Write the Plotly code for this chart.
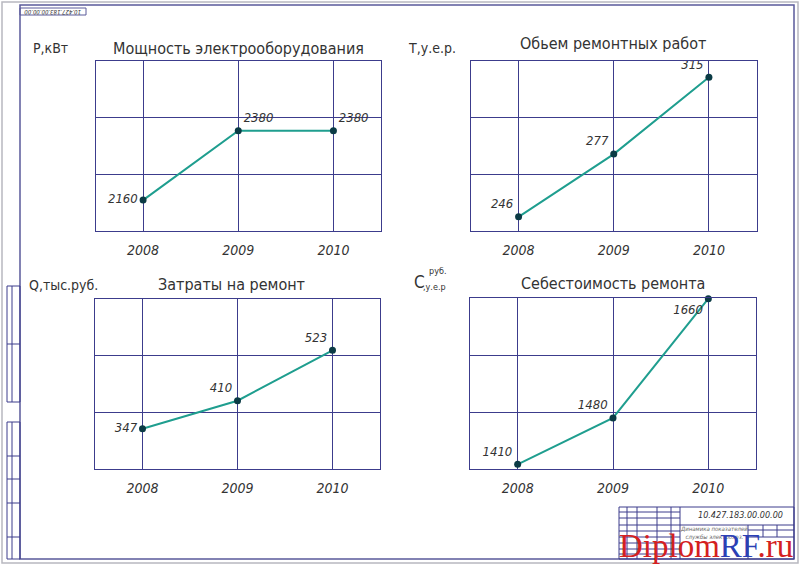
import plotly.graph_objects as go

W, H = 800, 565

years = [2008, 2009, 2010]

power_kw = [2160, 2380, 2380]
repair_volume = [246, 277, 315]
repair_costs = [347, 410, 523]
repair_unit_cost = [1410, 1480, 1660]

titles = ["Мощность электрооборудования", "Обьем ремонтных работ",
          "Затраты на ремонт", "Себестоимость ремонта"]
ylabels = ["P,кВт", "Т,у.е.р.", "Q,тыс.руб."]
sheet_code = "10.427.183.00.00.00"

LINE = "#1f9e8f"
MARK = "#0b3b45"
GRID = "#3c3c8c"
TXT = "#333333"
FONT = "DejaVu Sans Condensed, DejaVu Sans, sans-serif"


def px(x):
    return x / W


def py(y):
    return 1 - y / H


# panel placement in pixels: (left, right, top, bottom)
panels = [
    (95.5, 381, 61, 231),
    (471, 756.5, 61, 231),
    (95, 380, 298.5, 469),
    (470, 756, 298, 469),
]
series = [power_kw, repair_volume, repair_costs, repair_unit_cost]
yranges = [[2062, 2601], [239, 323], [257, 639], [1403, 1661]]
textpos = [
    ["middle left", "top right", "top right"],
    ["top left", "top left", "top left"],
    ["middle left", "top left", "top left"],
    ["top left", "top left", "bottom left"],
]

fig = go.Figure()
layout = {}
for i, (vals, (l, r, t, b), yr, tp) in enumerate(zip(series, panels, yranges, textpos)):
    n = "" if i == 0 else str(i + 1)
    fig.add_trace(go.Scatter(
        x=years, y=vals, xaxis="x" + n, yaxis="y" + n,
        mode="lines+markers+text", text=[str(v) for v in vals],
        textposition=tp, cliponaxis=False,
        textfont=dict(family=FONT, size=13, color=TXT, style="italic"),
        line=dict(color=LINE, width=2),
        marker=dict(color=MARK, size=7),
        showlegend=False, hoverinfo="x+y",
    ))
    step = (yr[1] - yr[0]) / 3
    layout["xaxis" + n] = dict(
        domain=[px(l), px(r)], anchor="y" + n, range=[2007.5, 2010.5],
        tickvals=years, ticktext=[str(y) for y in years],
        showgrid=True, gridcolor=GRID, gridwidth=1, zeroline=False,
        showline=True, linecolor=GRID, linewidth=1, mirror=True,
        ticks="", ticklabelstandoff=6,
        tickfont=dict(family=FONT, size=14, color=TXT, style="italic"),
    )
    layout["yaxis" + n] = dict(
        domain=[py(b), py(t)], anchor="x" + n, range=yr,
        tickvals=[yr[0] + step, yr[0] + 2 * step], showticklabels=False,
        showgrid=True, gridcolor=GRID, gridwidth=1, zeroline=False,
        showline=True, linecolor=GRID, linewidth=1, mirror=True, ticks="",
    )

fig.update_layout(**layout)

ann = []
title_xy = [(238, 48), (613, 44), (232, 284), (613, 283)]
for tt, (x, y) in zip(titles, title_xy):
    ann.append(dict(x=px(x), y=py(y), text=tt, font=dict(size=16)))
for lab, (x, y) in zip(ylabels, [(31, 48), (406, 48), (27, 285)]):
    ann.append(dict(x=px(x), y=py(y), text=lab, xanchor="left", font=dict(size=14)))
ann.append(dict(x=px(412), y=py(282), text="С", xanchor="left", font=dict(size=17)))
ann.append(dict(x=px(427), y=py(271), text="руб.", xanchor="left", font=dict(size=9)))
ann.append(dict(x=px(421), y=py(287), text=",у.е.р", xanchor="left", font=dict(size=9)))
# rotated stamp at top-left corner
ann.append(dict(x=px(53), y=py(12), text=sheet_code, textangle=180,
                font=dict(size=6, style="italic")))
# title block text
ann.append(dict(x=px(740), y=py(515), text=sheet_code,
                font=dict(size=9, style="italic")))
ann.append(dict(x=px(714), y=py(533), text="Динамика показателей<br>службы электрохоз.",
                font=dict(size=6, style="italic", color="#666666")))
# site watermark
ann.append(dict(
    x=px(706), y=py(546),
    text='<span style="color:#d42020">Diplom</span><span style="color:#2b3fb5">RF</span>'
         '<span style="color:#d42020">.ru</span>',
    font=dict(family="Liberation Serif, serif", size=33)))
for a in ann:
    a.setdefault("showarrow", False)
    a.setdefault("xanchor", "center")
    a.setdefault("yanchor", "middle")
    a["xref"] = "paper"
    a["yref"] = "paper"
    f = a.setdefault("font", {})
    f.setdefault("family", FONT)
    f.setdefault("color", TXT)

shapes = []


def rect(x0, y0, x1, y1, color=GRID, width=1):
    shapes.append(dict(type="rect", xref="paper", yref="paper",
                       x0=px(x0), x1=px(x1), y0=py(y1), y1=py(y0),
                       line=dict(color=color, width=width)))


def hline(x0, x1, y, color=GRID, width=1):
    shapes.append(dict(type="line", xref="paper", yref="paper",
                       x0=px(x0), x1=px(x1), y0=py(y), y1=py(y),
                       line=dict(color=color, width=width)))


def vline(x, y0, y1, color=GRID, width=1):
    shapes.append(dict(type="line", xref="paper", yref="paper",
                       x0=px(x), x1=px(x), y0=py(y0), y1=py(y1),
                       line=dict(color=color, width=width)))


# sheet borders
rect(2, 2, 798, 563, color="#b8b8c0", width=1.5)
rect(20, 5, 794, 559, color="#5a5a9a", width=1.5)
rect(20, 8, 86, 15, color="#5a5a9a")
# left strip
rect(7, 286, 20, 402)
hline(7, 20, 344)
rect(7, 422, 20, 559)
for yy in [456, 479, 503, 537]:
    hline(7, 20, yy)
vline(12, 286, 402)
vline(12, 422, 559)
# title block
rect(619, 507, 794, 559)
for xx in [627, 637, 657, 671, 680]:
    vline(xx, 507, 559)
for yy in [512, 518, 525, 531, 537, 543, 549, 554]:
    hline(619, 680, yy)
hline(680, 794, 525)
hline(748, 794, 530)
hline(748, 794, 537)
for xx in [748, 763, 777]:
    vline(xx, 525, 537)
vline(748, 537, 559)

fig.update_layout(
    width=W, height=H, margin=dict(l=0, r=0, t=0, b=0),
    paper_bgcolor="white", plot_bgcolor="white",
    annotations=ann, shapes=shapes,
    font=dict(family=FONT, color=TXT),
)

# the page body has a default 8px margin; drop it so the sheet fills the window
fig.write_html("out.html", config={"displayModeBar": False},
               post_script="document.body.style.margin='0';")
